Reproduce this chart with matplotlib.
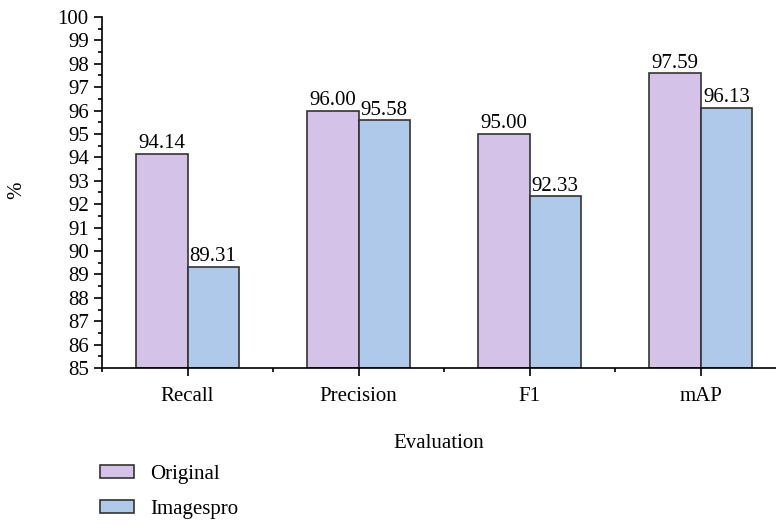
import matplotlib
matplotlib.use('Agg')
import matplotlib.pyplot as plt
import numpy as np
from matplotlib.ticker import MultipleLocator, FixedLocator

# scores per evaluation metric
metrics = ['Recall', 'Precision', 'F1', 'mAP']
original = [94.14, 96.00, 95.00, 97.59]
imagespro = [89.31, 95.58, 92.33, 96.13]

plt.rcParams['font.family'] = ['Liberation Serif', 'DejaVu Serif']
fs = 15

fig = plt.figure(figsize=(7.76, 5.24), dpi=100)
ax = fig.add_axes([0.1314, 0.2977, 0.8686, 0.6699])

x = np.arange(len(metrics))
w = 0.3
b1 = ax.bar(x - w / 2, np.array(original) - 85, w, bottom=85, color='#d4c2e8',
            edgecolor='#333333', linewidth=1.2, label='Original')
b2 = ax.bar(x + w / 2, np.array(imagespro) - 85, w, bottom=85, color='#afc9ea',
            edgecolor='#333333', linewidth=1.2, label='Imagespro')

for xs, vals in ((x - w / 2, original), (x + w / 2, imagespro)):
    for xi, v in zip(xs, vals):
        ax.text(xi, v + 0.03, f'{v:.2f}', ha='center', va='bottom', fontsize=fs)

ax.set_ylim(85, 100)
ax.set_xlim(-0.5, 3.44)
ax.yaxis.set_major_locator(MultipleLocator(1))
ax.yaxis.set_minor_locator(MultipleLocator(0.5))
ax.set_xticks(x)
ax.set_xticklabels(metrics)
ax.xaxis.set_minor_locator(FixedLocator([-0.5, 0.5, 1.5, 2.5]))

ax.tick_params(axis='both', which='major', labelsize=fs, length=6, width=1.2, direction='out')
ax.tick_params(axis='both', which='minor', length=3, width=1.2, direction='out')
ax.tick_params(axis='x', which='major', pad=8)

for s in ('top', 'right'):
    ax.spines[s].set_visible(False)
for s in ('left', 'bottom'):
    ax.spines[s].set_linewidth(1.2)

fig.text(17 / 776, 1 - 190 / 524, '%', rotation=90, ha='center', va='center', fontsize=fs)
ax.set_xlabel('Evaluation', fontsize=fs, labelpad=20)

fig.legend(handles=[b1, b2], loc='upper left', bbox_to_anchor=(100 / 776, 1 - 465 / 524),
           frameon=False, fontsize=fs, handlelength=1.65, handleheight=0.55,
           handletextpad=0.75, labelspacing=0.75, borderaxespad=0, borderpad=0)

fig.savefig('out.png', dpi=100)
